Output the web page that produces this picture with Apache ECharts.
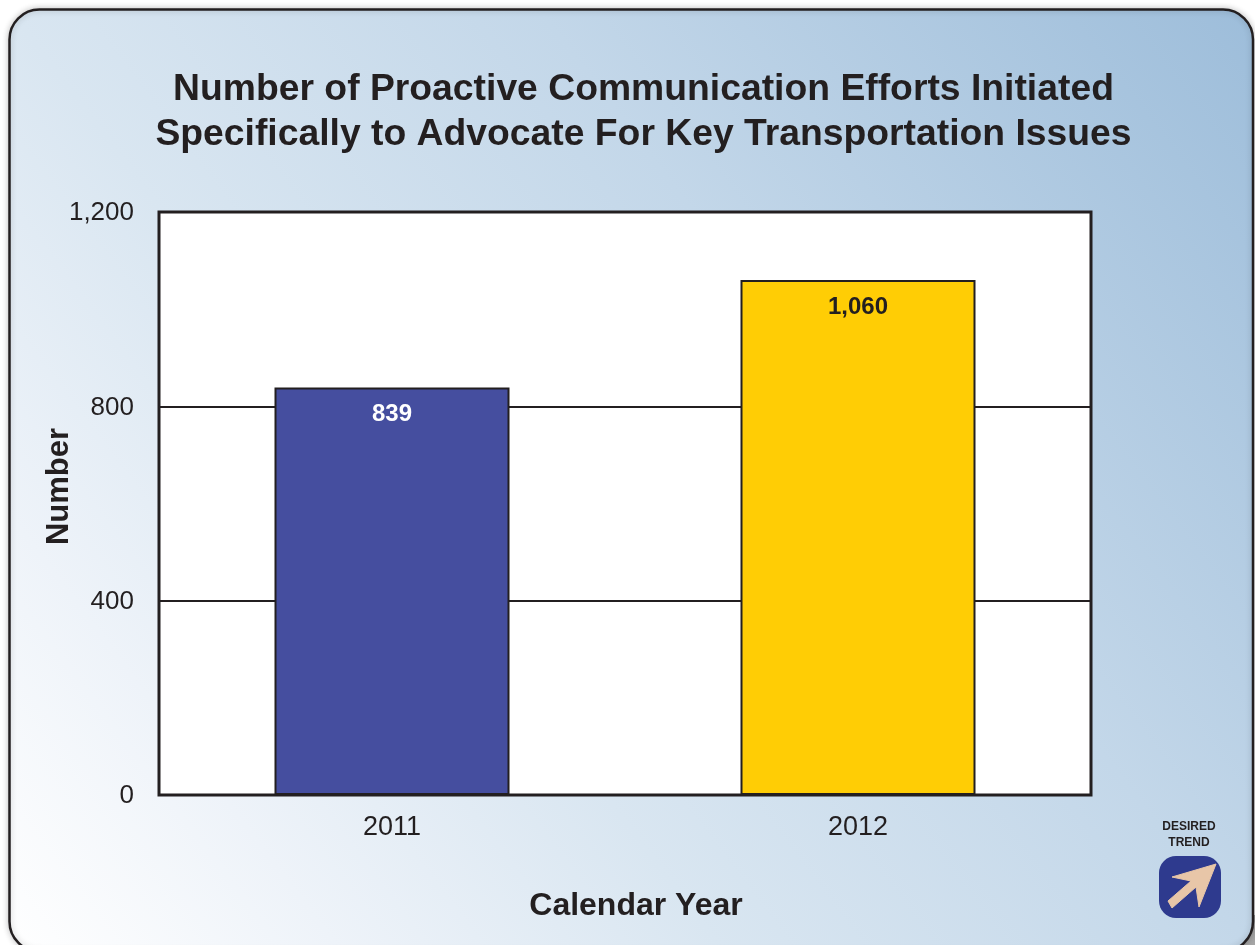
<!DOCTYPE html>
<html><head><meta charset="utf-8">
<style>html,body{margin:0;padding:0;background:#fff}#c{width:1255px;height:945px}</style>
<script src="https://cdn.jsdelivr.net/npm/echarts@6/dist/echarts.min.js"></script>
</head><body><div id="c"></div>
<script>
const categories = ['2011', '2012'];
const values = [839, 1060];
const barColors = ['#454e9f', '#ffcd05'];
const labelColors = ['#ffffff', '#231f20'];
const titleText = 'Number of Proactive Communication Efforts Initiated\nSpecifically to Advocate For Key Transportation Issues';
const ink = '#231f20';
const font = '"Liberation Sans", Arial, sans-serif';
const chart = echarts.init(document.getElementById('c'), null, {renderer: 'canvas'});
chart.setOption({
  animation: false,
  backgroundColor: '#ffffff',
  graphic: [
    {type: 'rect', z: -10, silent: true, shape: {x: 1225, y: 915, width: 30, height: 30}, style: {fill: '#a6a6a6'}},
    {type: 'rect', z: -9, silent: true, shape: {x: 9.5, y: 9.5, width: 1243.5, height: 942, r: 30},
      style: {stroke: ink, lineWidth: 2.5, shadowBlur: 6, shadowColor: 'rgba(0,0,0,0.22)',
        fill: new echarts.graphic.LinearGradient(0, 1, 1, 0, [
          {offset: 0, color: '#ffffff'}, {offset: 0.17, color: '#eef3f9'}, {offset: 0.365, color: '#d9e6f1'}, {offset: 0.635, color: '#c3d7e9'}, {offset: 1, color: '#9dbdda'}])}},
    {type: 'rect', z: 5, silent: true, shape: {x: 1159, y: 856, width: 62, height: 62, r: 17}, style: {fill: '#2e3a8e'}},
    {type: 'polygon', z: 6, silent: true, shape: {points: [[1216, 864], [1172, 877], [1191, 881], [1168, 901], [1172, 908], [1196, 887], [1199, 907]]}, style: {fill: '#e8c6a8', stroke: '#e8c6a8', lineWidth: 1, lineJoin: 'round'}},
    {type: 'text', z: 6, silent: true, style: {x: 1189, y: 835, text: 'DESIRED\nTREND', align: 'center', verticalAlign: 'middle', font: 'bold 12px ' + font, lineHeight: 16, fill: ink}}
  ],
  title: {
    text: titleText, left: 638.5, top: 62, textAlign: 'center',
    textStyle: {fontFamily: font, fontSize: 37.3, fontWeight: 'bold', color: ink, lineHeight: 45}
  },
  grid: {left: 159, top: 212, width: 932, height: 583, show: true, backgroundColor: '#ffffff', borderColor: ink, borderWidth: 3, containLabel: false},
  xAxis: {
    type: 'category', data: categories,
    axisTick: {show: false}, axisLine: {show: false},
    axisLabel: {fontFamily: font, fontSize: 27, color: ink, margin: 19},
    name: 'Calendar Year', nameLocation: 'middle', nameGap: 95, nameMoveOverlap: false,
    nameTextStyle: {fontFamily: font, fontSize: 32, fontWeight: 'bold', color: ink, padding: [0, 0, 0, 22]}
  },
  yAxis: {
    type: 'value', min: 0, max: 1200, interval: 400,
    axisTick: {show: false}, axisLine: {show: false},
    splitLine: {show: true, lineStyle: {color: ink, width: 2}},
    axisLabel: {fontFamily: font, fontSize: 26, color: ink, margin: 25, verticalAlign: 'top', lineHeight: 2, formatter: v => v.toLocaleString('en-US')},
    name: 'Number', nameLocation: 'middle', nameGap: 84, nameMoveOverlap: false,
    nameTextStyle: {fontFamily: font, fontSize: 31, fontWeight: 'bold', color: ink, padding: [0, 0, 0, 34]}
  },
  series: [{
    type: 'bar', barWidth: 235, z: 3,
    data: values.map((v, i) => ({
      value: v,
      itemStyle: {color: barColors[i], borderColor: ink, borderWidth: 2},
      label: {color: labelColors[i]}
    })),
    label: {show: true, position: 'insideTop', distance: 15, fontFamily: font, fontSize: 24, fontWeight: 'bold',
      formatter: p => p.value.toLocaleString('en-US')}
  }]
});
</script></body></html>
